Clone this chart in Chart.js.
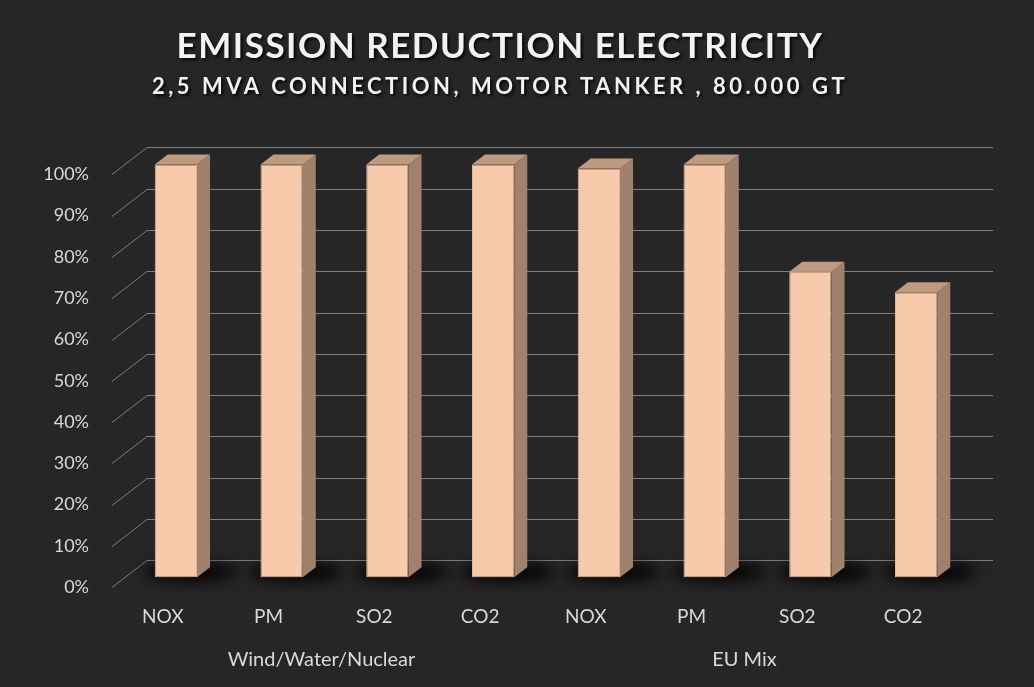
<!DOCTYPE html>
<html>
<head>
<meta charset="utf-8">
<script src="https://cdn.jsdelivr.net/npm/chart.js@4.4.1/dist/chart.umd.min.js"></script>
<style>
  html, body { margin: 0; padding: 0; background: #262626; }
  #wrap { width: 1034px; height: 687px; }
</style>
</head>
<body>
<div id="wrap"><canvas id="emission-chart"></canvas></div>
<script>
const categories = ['NOX', 'PM', 'SO2', 'CO2', 'NOX', 'PM', 'SO2', 'CO2'];
const groups = ['Wind/Water/Nuclear', 'EU Mix'];
const reduction = [100, 100, 100, 100, 99, 100, 74, 69];

// depth of the 3d look
const wallDx = 37, wallDy = -27;
const barDx = 13, barDy = -10;
const sideDx = 13, sideDy = -10;

const threeD = {
    id: 'threeD',
    beforeDatasetsDraw(chart) {
        const ctx = chart.ctx;
        const area = chart.chartArea;
        const y = chart.scales.y;
        ctx.save();
        ctx.strokeStyle = '#7f7f7f';
        ctx.lineWidth = 1;
        y.ticks.forEach(t => {
            const py = Math.round(y.getPixelForValue(t.value)) + 0.5;
            ctx.beginPath();
            ctx.moveTo(area.left + 2, py);
            ctx.lineTo(area.left + wallDx, py + wallDy);
            ctx.lineTo(area.right + wallDx, py + wallDy);
            ctx.stroke();
        });
        ctx.restore();

        ctx.save();
        ctx.translate(barDx, barDy);
        // floor shadows
        chart.getDatasetMeta(0).data.forEach(bar => {
            const p = bar.getProps(['x', 'y', 'base', 'width'], true);
            ctx.save();
            ctx.filter = 'blur(7px)';
            ctx.fillStyle = 'rgba(0,0,0,0.9)';
            ctx.beginPath();
            ctx.ellipse(p.x + 14, p.base - 5, p.width / 2 + 26, 9, 0, 0, Math.PI * 2);
            ctx.fill();
            ctx.restore();
        });
    },
    afterDatasetsDraw(chart) {
        const ctx = chart.ctx;
        chart.getDatasetMeta(0).data.forEach(bar => {
            const p = bar.getProps(['x', 'y', 'base', 'width'], true);
            const l = p.x - p.width / 2, r = p.x + p.width / 2;
            // side
            ctx.fillStyle = '#a0826c';
            ctx.beginPath();
            ctx.moveTo(r, p.y);
            ctx.lineTo(r + sideDx, p.y + sideDy);
            ctx.lineTo(r + sideDx, p.base + sideDy);
            ctx.lineTo(r, p.base);
            ctx.closePath();
            ctx.fill();
            // top
            ctx.fillStyle = '#bf9a80';
            ctx.beginPath();
            ctx.moveTo(l, p.y);
            ctx.lineTo(l + sideDx, p.y + sideDy);
            ctx.lineTo(r + sideDx, p.y + sideDy);
            ctx.lineTo(r, p.y);
            ctx.closePath();
            ctx.fill();
        });
        ctx.restore();
    }
};

const ctx = document.getElementById('emission-chart').getContext('2d');
const emissionChart = new Chart(ctx, {
    type: 'bar',
    data: {
        labels: categories,
        datasets: [{
            label: 'Emission reduction',
            data: reduction,
            backgroundColor: '#f7caac',
            borderColor: '#e3b596',
            borderWidth: 1,
            borderSkipped: false,
            barPercentage: 1,
            categoryPercentage: 0.4,
            clip: false
        }]
    },
    options: {
        responsive: true,
        maintainAspectRatio: false,
        animation: false,
        layout: {
            padding: { left: 0, right: 34, top: 0, bottom: 13 }
        },
        scales: {
            y: {
                min: 0,
                max: 100,
                ticks: {
                    stepSize: 10,
                    color: '#d9d9d9',
                    padding: 21,
                    font: { family: 'Lato', size: 18 },
                    callback: v => v + '%'
                },
                grid: { display: false, drawTicks: false },
                border: { display: false },
                afterFit: scale => { scale.width = 110; }
            },
            yRight: {
                position: 'right',
                ticks: { display: false },
                grid: { display: false, drawTicks: false },
                border: { display: false },
                afterFit: scale => { scale.width = 44; }
            },
            x: {
                ticks: {
                    color: '#d9d9d9',
                    padding: 18,
                    font: { family: 'Lato', size: 19 }
                },
                grid: { display: false, drawTicks: false },
                border: { display: false }
            },
            x2: {
                type: 'category',
                labels: groups,
                position: 'bottom',
                offset: true,
                ticks: {
                    color: '#d9d9d9',
                    padding: 2,
                    font: { family: 'Lato', size: 20 }
                },
                grid: { display: false, drawTicks: false },
                border: { display: false }
            }
        },
        plugins: {
            legend: { display: false },
            tooltip: { enabled: false },
            title: {
                display: true,
                text: 'EMISSION REDUCTION ELECTRICITY',
                color: '#f2f2f2',
                font: { family: 'Lato', size: 35, weight: 'bold' },
                padding: { top: 26, bottom: 4 }
            },
            subtitle: {
                display: true,
                text: '2,5 MVA CONNECTION, MOTOR TANKER , 80.000 GT',
                color: '#f2f2f2',
                font: { family: 'Lato', size: 22, weight: 'bold' },
                padding: { top: 2, bottom: 74 }
            }
        }
    },
    plugins: [threeD]
});

// spaced, shadowed title text like the original
emissionChart.boxes.forEach(box => {
    if (!box.options || typeof box.options.text !== 'string') return;
    const spacing = box.options.font.size > 30 ? '1.5px' : '3.5px';
    const draw = box.draw;
    box.draw = function (area) {
        const c = this.ctx;
        c.save();
        c.letterSpacing = spacing;
        c.shadowColor = 'rgba(0,0,0,0.85)';
        c.shadowOffsetX = 2;
        c.shadowOffsetY = 2;
        c.shadowBlur = 3;
        draw.call(this, area);
        c.restore();
    };
});
emissionChart.draw();
</script>
</body>
</html>
